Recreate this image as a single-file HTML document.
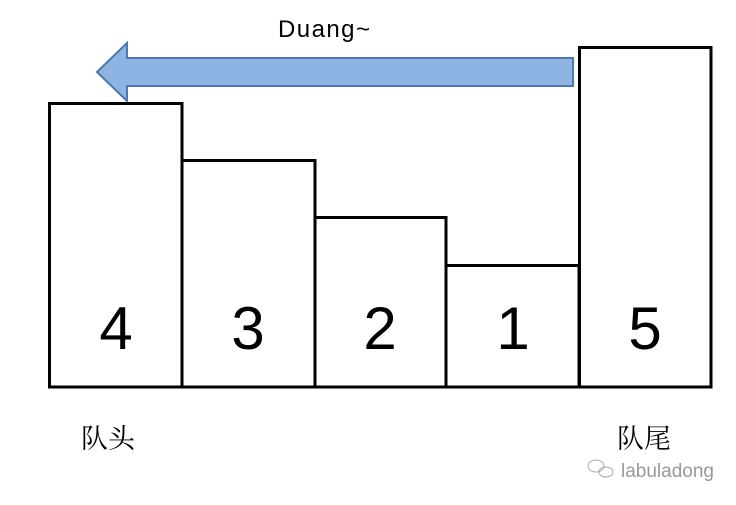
<!DOCTYPE html>
<html><head><meta charset="utf-8"><style>
html,body{margin:0;padding:0;background:#fff;}
svg{display:block;}
</style></head><body>
<svg width="736" height="505" viewBox="0 0 736 505" xmlns="http://www.w3.org/2000/svg">
<rect width="736" height="505" fill="#fff"/>
<text x="324" y="37" font-family="Liberation Sans, sans-serif" font-size="24" text-anchor="middle" fill="#000" textLength="92">Duang~</text>
<polygon points="97,72 127,43 127,58 573,58 573,86 127,86 127,101" fill="#8eb4e3" stroke="#4a7ab0" stroke-width="2" stroke-linejoin="miter"/>
<g fill="#fff" stroke="#000" stroke-width="3">
<rect x="49.5" y="103.5" width="132.5" height="283.5"/>
<rect x="182" y="160.5" width="133" height="226.5"/>
<rect x="315" y="217.5" width="131" height="169.5"/>
<rect x="446" y="265.5" width="133" height="121.5"/>
<rect x="579.5" y="47.5" width="131.5" height="339.5"/>
</g>
<g font-family="Liberation Sans, sans-serif" font-size="60" text-anchor="middle" fill="#000">
<text x="116" y="349">4</text>
<text x="248" y="349">3</text>
<text x="380" y="349">2</text>
<text x="513" y="349">1</text>
<text x="645" y="349">5</text>
</g>
<g font-family="Liberation Serif, 'Noto Serif CJK SC', serif" font-size="27" fill="#000">
<text x="81" y="448">队头</text>
<text x="617" y="448">队尾</text>
</g>
<g fill="none" stroke="#aaa" stroke-width="1">
<ellipse cx="596" cy="466" rx="8" ry="6"/>
<ellipse cx="606" cy="472" rx="7" ry="5"/>
</g>
<text x="621" y="477" font-family="Liberation Sans, sans-serif" font-size="19" fill="#999">labuladong</text>
</svg>
</body></html>
